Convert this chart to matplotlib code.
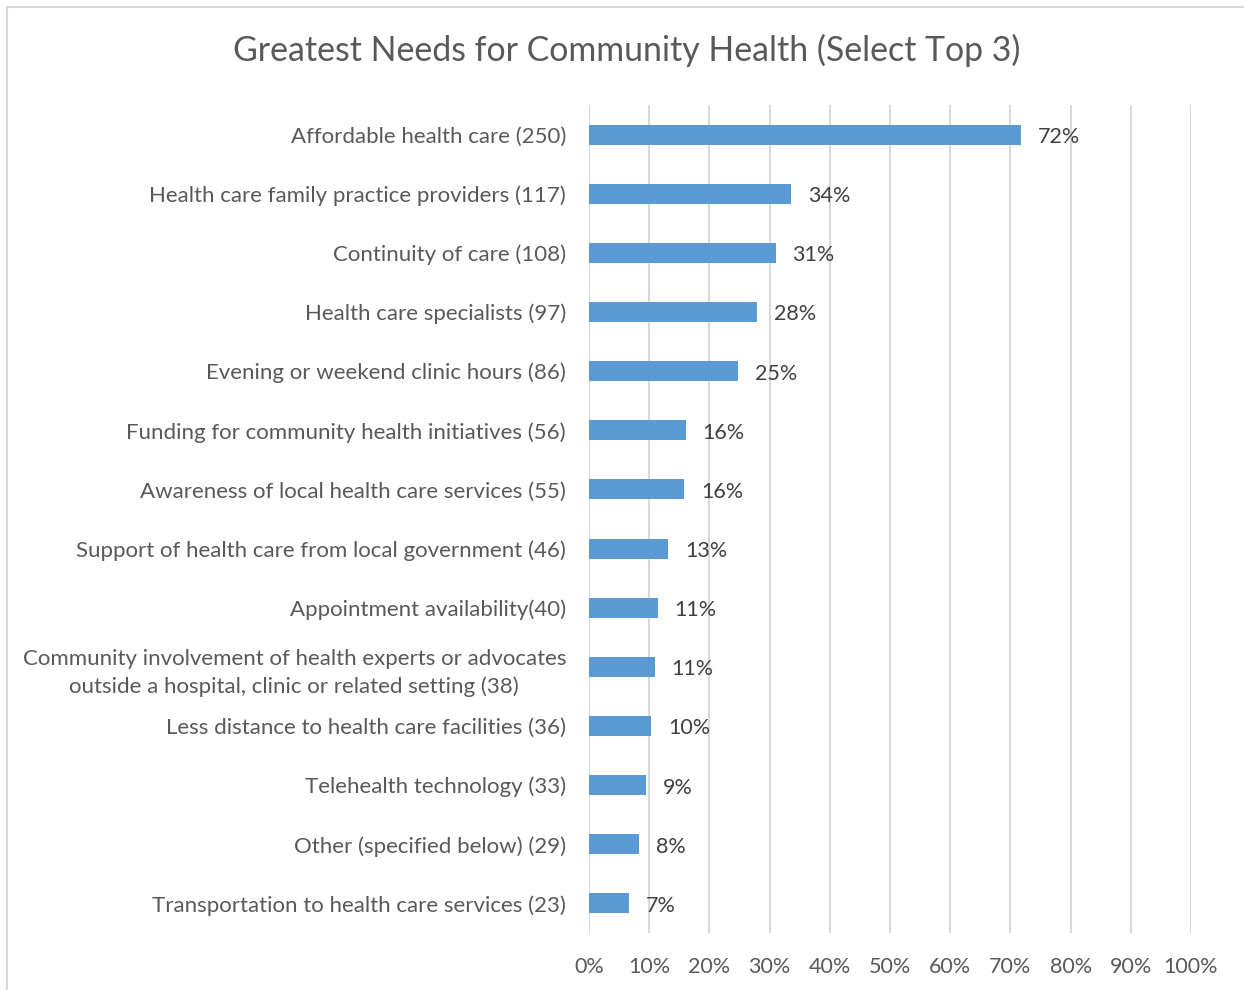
import matplotlib
matplotlib.use('Agg')
import matplotlib.pyplot as plt
from matplotlib.patches import Rectangle

plt.rcParams['font.family'] = ['Lato', 'DejaVu Sans']

categories = [
    'Affordable health care (250)',
    'Health care family practice providers (117)',
    'Continuity of care (108)',
    'Health care specialists (97)',
    'Evening or weekend clinic hours (86)',
    'Funding for community health initiatives (56)',
    'Awareness of local health care services (55)',
    'Support of health care from local government (46)',
    'Appointment availability(40)',
    'Community involvement of health experts or advocates\noutside a hospital, clinic or related setting (38)',
    'Less distance to health care facilities (36)',
    'Telehealth technology (33)',
    'Other (specified below) (29)',
    'Transportation to health care services (23)',
]
percent = [71.8, 33.6, 31.0, 27.9, 24.7, 16.1, 15.8, 13.2, 11.4, 10.9, 10.3, 9.4, 8.3, 6.6]
xticks = [0, 10, 20, 30, 40, 50, 60, 70, 80, 90, 100]

BAR = '#5B9BD5'
GRID = '#D9D9D9'
LABEL = '#595959'
VALUE = '#404040'

W, H = 1244, 990
fig = plt.figure(figsize=(W / 100, H / 100), dpi=100)

# light outer frame, open on the right and bottom
fig.add_artist(Rectangle((7 / W, -0.1), 1.2, 1 - 7 / H + 0.1, transform=fig.transFigure,
                         fill=False, edgecolor=GRID, linewidth=1.5))

ax = fig.add_axes([589 / W, 1 - 933 / H, (1191 - 589) / W, (933 - 105) / H])

y = list(range(len(categories)))
ax.barh(y, percent, height=0.34, color=BAR, zorder=3)
for yi, v in zip(y, percent):
    ax.text(v + 2.8, yi + 0.04, f'{v:.0f}%', va='center', ha='left', fontsize=15.5, color=VALUE)

ax.set_xlim(0, 100)
ax.set_ylim(len(categories) - 0.5, -0.5)
ax.set_xticks(xticks)
ax.set_xticklabels([f'{t}%' for t in xticks], fontsize=15.5, color=LABEL)
ax.set_yticks(y)
ax.set_yticklabels(categories, fontsize=16, color=LABEL, multialignment='center', linespacing=1.45)
ax.tick_params(axis='both', length=0)
ax.tick_params(axis='x', pad=17)
ax.tick_params(axis='y', pad=16.5)
ax.grid(axis='x', color=GRID, linewidth=1.5, zorder=0)
for s in ax.spines.values():
    s.set_visible(False)

fig.text(627 / W, 1 - 50 / H, 'Greatest Needs for Community Health (Select Top 3)',
         ha='center', va='center', fontsize=24.4, color=LABEL)

fig.savefig('out.png', dpi=100)
